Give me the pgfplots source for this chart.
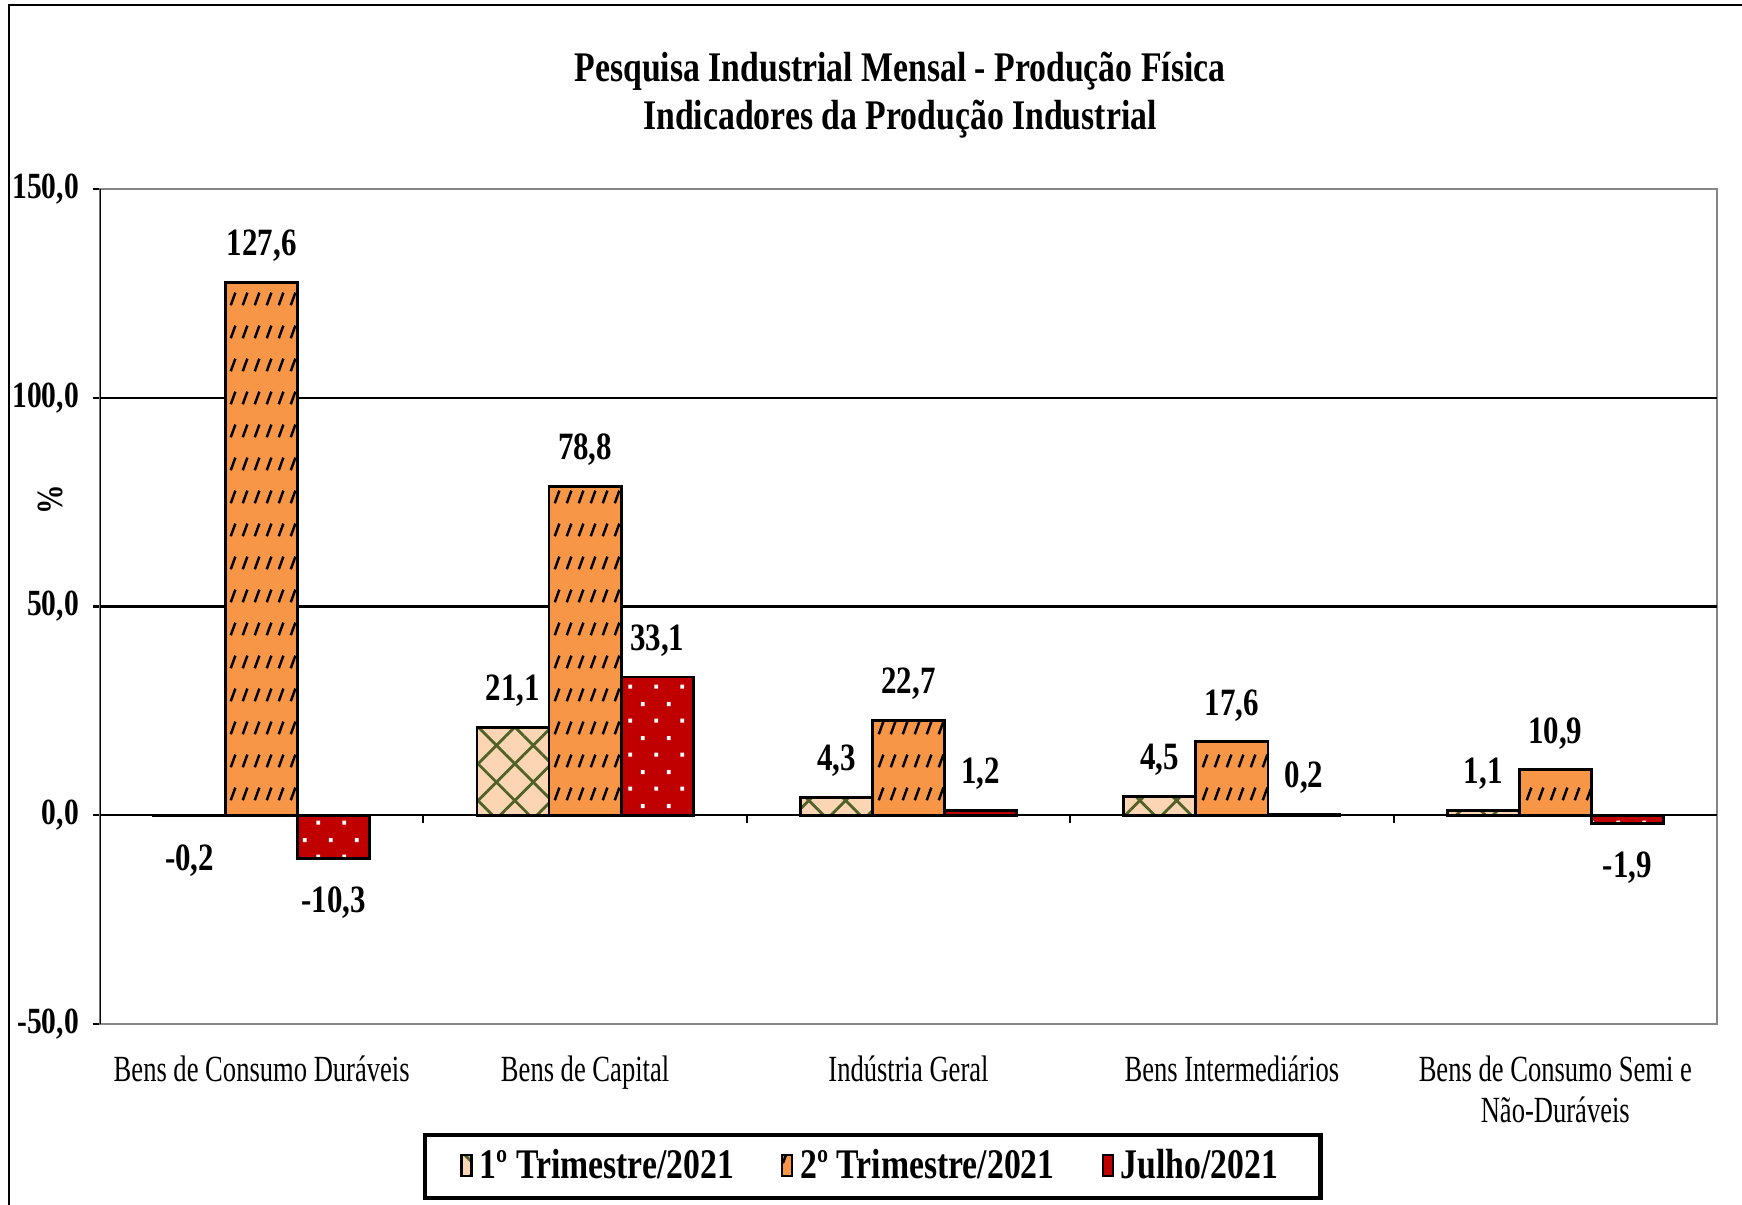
\documentclass[border=0pt]{standalone}
\usepackage{fontspec}
\setmainfont{Liberation Serif}[FakeStretch=0.8]
\newfontfamily\catfont{Liberation Serif}[FakeStretch=0.72]
\usepackage{pgfplots}
\pgfplotsset{compat=1.18}
\usetikzlibrary{patterns,patterns.meta}

\definecolor{peach}{HTML}{FCD5B4}
\definecolor{olivegreen}{HTML}{4F6228}
\definecolor{orangebar}{HTML}{F79646}
\definecolor{redbar}{HTML}{C00000}
\definecolor{frame}{HTML}{868686}

% rows of short slanted dashes (2o trimestre)
\pgfdeclarepatternformonly{dashrows}{\pgfpointorigin}{\pgfpoint{1.2mm}{3.3mm}}{\pgfpoint{1.2mm}{3.3mm}}{
  \pgfsetlinewidth{0.75pt}
  \pgfpathmoveto{\pgfpoint{0.3mm}{0.9mm}}
  \pgfpathlineto{\pgfpoint{0.8mm}{2.2mm}}
  \pgfusepath{stroke}
}
% staggered white squares (julho)
\pgfdeclarepatternformonly{sqdots}{\pgfpointorigin}{\pgfpoint{2.6mm}{3.4mm}}{\pgfpoint{2.6mm}{3.4mm}}{
  \pgfpathrectangle{\pgfpoint{0.45mm}{0.65mm}}{\pgfpoint{0.4mm}{0.4mm}}
  \pgfpathrectangle{\pgfpoint{1.75mm}{2.35mm}}{\pgfpoint{0.4mm}{0.4mm}}
  \pgfusepath{fill}
}

\begin{document}
\begin{tikzpicture}
\useasboundingbox (0,0) rectangle (17.42,12.05);
\draw[line width=0.8pt] (0.09,0) -- (0.09,12.0) -- (17.42,12.0);

\node[align=center, font=\fontsize{12}{13.8}\selectfont\bfseries] at (9.0,11.10)
  {Pesquisa Industrial Mensal - Produção Física\\Indicadores da Produção Industrial};
\node[rotate=90, font=\fontsize{10.5}{12}\selectfont\bfseries] at (0.50,7.05) {\%};

\begin{axis}[
    at={(1.00cm,1.81cm)}, anchor=south west,
    width=16.17cm, height=8.35cm, scale only axis,
    ybar=0pt, bar width=0.223,
    xmin=-0.5, xmax=4.5,
    ymin=-50, ymax=150,
    ytick={-50,0,50,100,150},
    xtick={0,1,2,3,4},
    xticklabels={Bens de Consumo Duráveis, Bens de Capital, Indústria Geral, Bens Intermediários, {Bens de Consumo Semi e\\Não-Duráveis}},
    x tick label style={align=center, font=\fontsize{10.5}{11.8}\selectfont\catfont, yshift=-3.5pt},
    y tick label style={font=\fontsize{10.5}{12}\selectfont\bfseries, xshift=-0.5pt},
    /pgf/number format/assume math mode=true,
    yticklabel={\pgfmathprintnumber[fixed,fixed zerofill,precision=1,use comma]{\tick}},
    xtick style={draw=none},
    ytick pos=left, tick align=outside,
    major tick length=0.07cm,
    ytick style={black, line width=0.6pt},
    axis line style={draw=frame, line width=0.7pt},
    nodes near coords={\rule{0pt}{9.6pt}\pgfmathprintnumber[fixed,fixed zerofill,precision=1,use comma]{\pgfplotspointmeta}},
    every node near coord/.append style={font=\fontsize{11}{12}\selectfont\bfseries, black, inner sep=5.5pt},
    legend style={at={(0.478,-0.1305)}, anchor=north, draw=black, line width=1.2pt,
      font=\fontsize{12}{13}\selectfont\bfseries, legend columns=3,
      inner xsep=10pt, inner ysep=2pt,
      /tikz/every even column/.append style={column sep=0.40cm}},
    legend image code/.code={\draw[#1, line width=0.6pt] (0cm,-0.1cm) rectangle (0.1cm,0.11cm);},
]
\draw[black, line width=0.6pt] (axis cs:-0.5,50) -- (axis cs:4.5,50);
\draw[black, line width=0.6pt] (axis cs:-0.5,100) -- (axis cs:4.5,100);

\addplot[draw=black, line width=0.8pt, fill=peach,
  postaction={pattern={Hatch[angle=45,distance=2.6mm,line width=0.8pt]}, pattern color=olivegreen}]
  coordinates {(0,-0.2) (1,21.1) (2,4.3) (3,4.5) (4,1.1)};
\addplot[draw=black, line width=0.8pt, fill=orangebar,
  postaction={pattern=dashrows, pattern color=black}]
  coordinates {(0,127.6) (1,78.8) (2,22.7) (3,17.6) (4,10.9)};
\addplot[draw=black, line width=0.8pt, fill=redbar,
  postaction={pattern=sqdots, pattern color=white}]
  coordinates {(0,-10.3) (1,33.1) (2,1.2) (3,0.2) (4,-1.9)};
\legend{1º Trimestre/2021, 2º Trimestre/2021, Julho/2021}

\draw[black, line width=0.7pt] (axis cs:-0.5,0) -- (axis cs:4.5,0);
\draw[black, line width=0.7pt] (rel axis cs:0,0) -- (rel axis cs:0,1);
\draw[black, line width=0.6pt] (axis cs:0.5,0) -- ([yshift=-0.08cm]axis cs:0.5,0);
\draw[black, line width=0.6pt] (axis cs:1.5,0) -- ([yshift=-0.08cm]axis cs:1.5,0);
\draw[black, line width=0.6pt] (axis cs:2.5,0) -- ([yshift=-0.08cm]axis cs:2.5,0);
\draw[black, line width=0.6pt] (axis cs:3.5,0) -- ([yshift=-0.08cm]axis cs:3.5,0);
\end{axis}
\end{tikzpicture}
\end{document}
